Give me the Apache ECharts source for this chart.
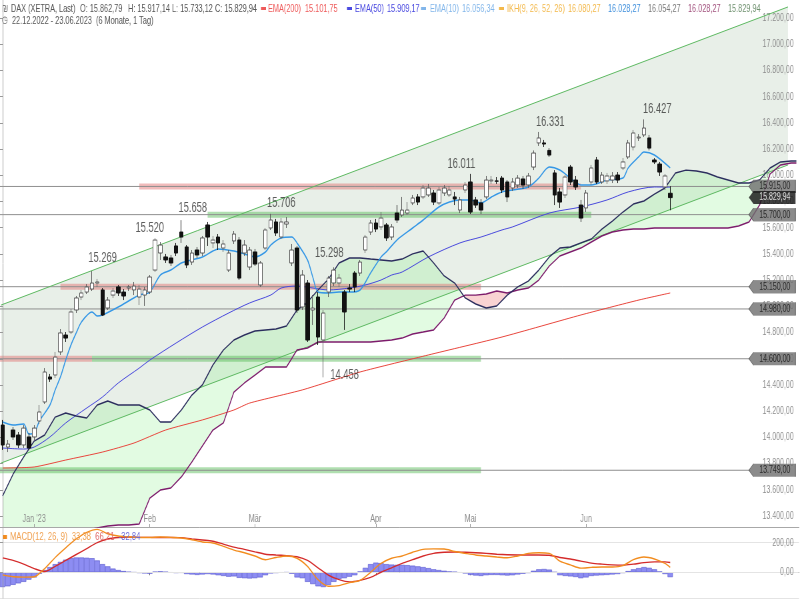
<!DOCTYPE html>
<html><head><meta charset="utf-8">
<script src="https://cdn.jsdelivr.net/npm/echarts@6/dist/echarts.min.js"></script>
<style>
html,body{margin:0;padding:0;background:#fff;width:800px;height:600px;overflow:hidden}
#wrap{width:800px;height:600px;overflow:hidden}
#c{width:1200px;height:600px;transform:scaleX(0.6666667);transform-origin:0 0}
</style>
</head><body><div id="wrap"><div id="c"></div></div>
<script>
// ---------- data ----------
const dates = ['22.12.2022','23.12.2022','27.12.2022','28.12.2022','29.12.2022','30.12.2022',
'02.01.2023','03.01.2023','04.01.2023','05.01.2023','06.01.2023','09.01.2023','10.01.2023','11.01.2023','12.01.2023','13.01.2023','16.01.2023','17.01.2023','18.01.2023','19.01.2023','20.01.2023','23.01.2023','24.01.2023','25.01.2023','26.01.2023','27.01.2023','30.01.2023','31.01.2023',
'01.02.2023','02.02.2023','03.02.2023','06.02.2023','07.02.2023','08.02.2023','09.02.2023','10.02.2023','13.02.2023','14.02.2023','15.02.2023','16.02.2023','17.02.2023','20.02.2023','21.02.2023','22.02.2023','23.02.2023','24.02.2023','27.02.2023','28.02.2023',
'01.03.2023','02.03.2023','03.03.2023','06.03.2023','07.03.2023','08.03.2023','09.03.2023','10.03.2023','13.03.2023','14.03.2023','15.03.2023','16.03.2023','17.03.2023','20.03.2023','21.03.2023','22.03.2023','23.03.2023','24.03.2023','27.03.2023','28.03.2023','29.03.2023','30.03.2023','31.03.2023',
'03.04.2023','04.04.2023','05.04.2023','06.04.2023','11.04.2023','12.04.2023','13.04.2023','14.04.2023','17.04.2023','18.04.2023','19.04.2023','20.04.2023','21.04.2023','24.04.2023','25.04.2023','26.04.2023','27.04.2023','28.04.2023',
'02.05.2023','03.05.2023','04.05.2023','05.05.2023','08.05.2023','09.05.2023','10.05.2023','11.05.2023','12.05.2023','15.05.2023','16.05.2023','17.05.2023','18.05.2023','19.05.2023','22.05.2023','23.05.2023','24.05.2023','25.05.2023','26.05.2023','29.05.2023','30.05.2023','31.05.2023',
'01.06.2023','02.06.2023','05.06.2023','06.06.2023','07.06.2023','08.06.2023','09.06.2023','12.06.2023','13.06.2023','14.06.2023','15.06.2023','16.06.2023','19.06.2023','20.06.2023','21.06.2023','22.06.2023','23.06.2023'];

const opens = [14094,13926,14056,14018,13942,14003,14003,14125,14270,14461,14476,14652,14781,14804,14972,15071,15109,15132,15178,15125,14987,15086,15148,15109,15140,15125,15071,15086,
15109,15277,15407,15377,15369,15461,15567,15453,15338,15430,15407,15621,15484,15529,15445,15277,15499,15506,15407,15300,
15415,15163,15445,15598,15644,15529,15628,15331,15445,14995,15178,14972,15071,14743,15109,15178,15178,15109,15140,15254,15254,15430,15567,
15636,15606,15621,15529,15712,15697,15712,15789,15835,15835,15850,15865,15789,15865,15850,15835,15735,15888,
15949,15812,15789,15835,15957,15957,15979,15949,15903,15926,15972,15926,16063,16247,16247,16190,16018,15873,15850,16063,15964,15773,
15751,15949,16117,15949,15957,15964,16002,16056,16140,16216,16285,16308,16285,16117,16086,15911,15862.79];
const closes = [13942,13949,14003,13942,14071,13919,14071,14194,14499,14445,14613,14797,14758,14957,15064,15102,15148,15178,15186,14934,15048,15117,15102,15079,15148,15155,15132,15125,
15224,15506,15468,15354,15331,15407,15529,15316,15407,15392,15522,15529,15506,15484,15476,15407,15552,15216,15468,15430,
15323,15331,15583,15659,15560,15644,15644,15430,14972,15239,14743,14987,14766,14949,15216,15277,15216,14957,15132,15148,15338,15529,15636,
15590,15674,15522,15606,15659,15735,15735,15827,15796,15903,15903,15796,15888,15903,15888,15819,15812,15926,
15720,15773,15735,15964,15964,15955,15888,15835,15949,15979,15926,15995,16170,16285,16239,16155,15850,15796,15987,15949,15911,15674,
15865,16056,15949,16002,15995,15995,15964,16102,16247,16323,16292,16361,16208,16102,16025,15995,15829.94];
const lows = [13904,13888,13980,13919,13919,13904,13980,14102,14255,14423,14453,14629,14728,14789,14949,15048,15094,15117,15148,14926,14972,15064,15079,15048,15117,15086,15010,15003,
15094,15262,15354,15331,15308,15384,15484,15292,15316,15369,15384,15461,15445,15430,15415,15262,15476,15201,15384,15277,
15308,15148,15430,15583,15537,15514,15598,15308,14949,14972,14728,14858,14705,14458,15071,15155,15148,14820,15109,15109,15232,15407,15545,
15567,15583,15499,15506,15636,15682,15697,15773,15773,15819,15835,15773,15773,15842,15835,15773,15712,15865,
15705,15751,15705,15819,15934,15934,15865,15796,15880,15903,15896,15903,16040,16224,16216,16140,15773,15751,15827,15926,15888,15644,
15720,15926,15934,15934,15934,15941,15941,16040,16125,16190,16262,16292,16190,16086,15995,15888,15733.12];
const highs = [14133,13980,14079,14041,14094,14033,14094,14247,14529,14484,14652,14827,14804,14980,15079,15125,15170,15269,15209,15140,15071,15140,15163,15132,15163,15186,15163,15148,
15239,15520,15491,15400,15392,15484,15658,15468,15430,15453,15537,15644,15537,15552,15506,15430,15575,15529,15506,15453,
15438,15346,15598,15706,15667,15674,15682,15476,15461,15277,15201,15086,15109,14972,15232,15298,15247,15125,15170,15269,15354,15545,15659,
15667,15720,15636,15628,15773,15835,15796,15850,15857,15926,15934,15888,15911,15926,15918,15873,15835,15949,
16011,15835,15819,15995,15995,15987,15995,15964,15979,16002,15995,16018,16190,16331,16270,16208,16040,15903,16002,16079,15995,15812,
15888,16079,16140,16025,16018,16025,16025,16132,16270,16346,16315,16427,16308,16132,16102,16010,15917.14];

const ema10 = [[0,14117],[2,14094],[4,14102],[5,14026],[6,14033],[7,14125],[9,14247],[10,14362],[11,14461],[12,14590],[13,14705],[14,14797],[15,14881],[17,14957],[18,14926],[19,14934],[22,14995],[26,15086],[28,15109],[30,15239],[32,15277],[34,15331],[36,15354],[38,15377],[40,15422],[41,15438],[44,15422],[46,15400],[48,15377],[50,15415],[51,15468],[53,15522],[55,15529],[56,15484],[58,15354],[59,15224],[60,15109],[62,15102],[64,15109],[66,15109],[68,15125],[70,15254],[72,15377],[73,15415],[75,15506],[78,15598],[80,15659],[83,15758],[85,15796],[87,15812],[89,15812],[91,15789],[93,15835],[95,15873],[97,15888],[100,15911],[102,15979],[104,16063],[106,16040],[108,15979],[110,15926],[112,15926],[115,15964],[118,15979],[119,16056],[121,16140],[122,16178],[124,16155],[127,16056]];
const ema50 = [[0,13919],[4,13911],[6,13926],[9,14003],[12,14110],[16,14224],[19,14308],[22,14415],[26,14529],[28,14590],[33,14720],[38,14842],[43,14949],[47,15026],[51,15086],[53,15140],[56,15155],[59,15140],[62,15125],[66,15140],[69,15163],[72,15201],[74,15239],[76,15262],[81,15377],[87,15484],[91,15529],[95,15583],[97,15606],[104,15712],[110,15758],[115,15812],[119,15873],[124,15911],[127,15909]];
const ema200 = [[0,13766],[6,13774],[12,13827],[19,13888],[25,13957],[31,14056],[38,14133],[44,14209],[47,14262],[57,14362],[68,14499],[81,14629],[95,14766],[110,14934],[121,15048],[127,15102]];

const ikhX = [0,2,4,6,8,10,12,14,16,18,20,22,24,26,28,30,32,34,36,38,40,42,44,46,48,50,52,54,56,58,60,62,64,66,68,70,72,74,76,78,80,82,84,86,88,90,92,94,96,98,100,102,104,106,108,110,112,114,116,118,120,122,124,126,128,130,132,134,136,138,140,142,144,146,148,150,151];
const spanA = [13553,13720,13850,13972,14018,14155,14186,14163,14148,14247,14278,14247,14247,14247,14209,14117,14117,14209,14323,14400,14552,14667,14743,14781,14812,14820,14827,14850,14972,15033,15125,15209,15331,15369,15369,15361,15354,15346,15361,15400,15422,15331,15232,15178,15064,15018,14987,15003,15086,15148,15193,15277,15377,15445,15453,15484,15514,15590,15651,15720,15781,15804,15857,15903,16018,16040,16033,16018,15987,15964,15941,15941,15964,16056,16102,16109,16109];
const spanB = [13217,13232,13247,13255,13263,13270,13278,13285,13293,13308,13324,13331,13331,13339,13537,13598,13614,13698,13812,13934,14056,14110,14346,14415,14476,14537,14537,14537,14667,14682,14728,14728,14728,14728,14728,14728,14736,14743,14758,14789,14804,14820,14911,15048,15086,15086,15094,15117,15102,15125,15140,15201,15308,15384,15415,15445,15491,15537,15567,15583,15590,15590,15598,15598,15598,15598,15598,15598,15598,15598,15613,15644,15773,16010,16079,16094,16094];

const channelX = [-0.3, 149.4];
const channelUpper = [15010, 17285];
const channelLower = [13804, 16079];

const levels = [15915, 15700, 15150, 14980, 14600, 13749];
const bandLevel = [15915, 15700, 15150, 14600, 14600, 13749];
const bandFrom  = [26, 39, 11, -0.5, 17, -0.5];
const bandTo    = [110, 112, 91, 17, 91, 91];
const bandKind  = ['r', 'g', 'r', 'r', 'g', 'g'];

const noteIdx = [17, 29, 34, 51, 63, 61, 89, 102, 122];
const noteVal = [15269, 15520, 15658, 15706, 15298, 14458, 16011, 16331, 16427];

const macdLine = [[0,-18],[2,-30],[4,-33],[6,-30],[8,25],[10,100],[12,165],[14,225],[16,270],[18,290],[20,260],[22,245],[24,240],[26,235],[28,235],[30,238],[32,236],[34,232],[36,220],[38,205],[40,198],[42,175],[44,150],[46,132],[48,110],[50,85],[52,100],[54,110],[56,95],[58,40],[60,-50],[62,-95],[64,-90],[66,-70],[68,-55],[70,0],[72,60],[74,95],[76,110],[78,135],[80,155],[82,158],[84,157],[86,140],[88,128],[90,117],[92,110],[94,103],[96,98],[98,110],[100,128],[102,132],[104,128],[106,75],[108,50],[110,28],[112,33],[114,36],[116,36],[118,45],[120,85],[122,103],[124,90],[126,60],[127,33.38]];
const macdSignal = [[0,97],[2,80],[4,55],[6,25],[8,5],[10,40],[12,80],[14,120],[16,160],[18,200],[20,225],[22,235],[24,238],[26,236],[28,236],[30,235],[32,236],[34,234],[36,225],[38,218],[40,210],[42,190],[44,170],[46,155],[48,138],[50,122],[52,117],[54,112],[56,105],[58,80],[60,30],[62,-20],[64,-50],[66,-65],[68,-55],[70,-35],[72,0],[74,30],[76,60],[78,85],[80,110],[82,128],[84,135],[86,137],[88,135],[90,132],[92,128],[94,122],[96,118],[98,117],[100,117],[102,117],[104,115],[106,100],[108,90],[110,75],[112,62],[114,55],[116,50],[118,48],[120,55],[122,65],[124,70],[126,70],[127,66.21]];
const macdHist = [-100,-95,-85,-75,-65,-50,-35,-10,15,35,55,70,85,95,100,100,98,95,80,55,40,25,15,8,2,-2,-5,-8,
-10,3,6,2,-3,-5,-4,-12,-15,-18,-15,-12,-15,-20,-25,-30,-28,-38,-40,-42,
-40,-35,-20,-8,-5,-3,-2,-10,-35,-40,-65,-80,-95,-100,-85,-65,-45,-40,-30,-20,5,30,55,
65,62,55,52,50,50,48,45,40,35,28,20,15,10,5,2,-3,-8,
-18,-22,-25,-20,-18,-18,-20,-22,-20,-15,-10,-5,10,20,22,18,0,-20,-25,-28,-32,-40,
-35,-25,-22,-20,-18,-15,-12,-5,8,20,28,35,30,20,5,-12,-32.84];

// ---------- helpers / layout ----------
// The chart is drawn 1200px wide and squeezed to 800px, like the reference screenshot.
const SX = 1.5;
const N = 152;
const cats = dates.concat(new Array(N - dates.length).fill(''));
const FONT = '"Liberation Sans", Arial, sans-serif';
function fmtDE(v, dec) {
  const s = Math.abs(v).toFixed(dec).split('.');
  const intp = s[0].replace(/\B(?=(\d{3})+(?!\d))/g, '.');
  return (v < 0 ? '-' : '') + intp + (s[1] ? ',' + s[1] : '');
}
function isMonthStart(i) {
  if (i <= 0 || i >= dates.length) return false;
  return dates[i].slice(3, 5) !== dates[i - 1].slice(3, 5);
}
const monthNames = {'01': "Jan '23", '02': 'Feb', '03': 'Mär', '04': 'Apr', '05': 'Mai', '06': 'Jun'};
const tickInt = (i) => isMonthStart(i);

const candleData = opens.map((o, i) => [o, closes[i], lows[i], highs[i]]);
const last = dates.length - 1;

function L(data, color, width, z, extra) {
  return Object.assign({type: 'line', xAxisIndex: 1, yAxisIndex: 0, data: data, symbol: 'none', silent: true,
    lineStyle: {color: color, width: width}, z: z}, extra || {});
}

const series = [];
series.push({type: 'custom', xAxisIndex: 1, yAxisIndex: 0, clip: true, silent: true, z: 1, data: [[0, 15000]],
  renderItem: function (params, api) {
    const pts = [api.coord([channelX[0], channelUpper[0]]), api.coord([channelX[1], channelUpper[1]]),
                 api.coord([channelX[1], channelLower[1]]), api.coord([channelX[0], channelLower[0]])];
    return {type: 'polygon', shape: {points: pts}, style: {fill: 'rgba(150,180,150,0.22)'}};
  }});
series.push({type: 'custom', xAxisIndex: 1, yAxisIndex: 0, clip: true, silent: true, z: 1, data: [[0, 15000]],
  renderItem: function (params, api) {
    const polys = [];
    let sign = (spanA[0] - spanB[0]) >= 0 ? 1 : -1;
    let As = [[ikhX[0], spanA[0]]], Bs = [[ikhX[0], spanB[0]]];
    for (let k = 0; k < ikhX.length - 1; k++) {
      const x0 = ikhX[k], x1 = ikhX[k + 1];
      const d0 = spanA[k] - spanB[k], d1 = spanA[k + 1] - spanB[k + 1];
      const s1 = d1 > 0 ? 1 : (d1 < 0 ? -1 : sign);
      if (s1 !== sign) {
        const t = d0 / (d0 - d1);
        const xc = x0 + t * (x1 - x0), yc = spanA[k] + t * (spanA[k + 1] - spanA[k]);
        As.push([xc, yc]); Bs.push([xc, yc]);
        polys.push({sign: sign, pts: As.concat(Bs.slice().reverse())});
        sign = s1; As = [[xc, yc]]; Bs = [[xc, yc]];
      }
      As.push([x1, spanA[k + 1]]); Bs.push([x1, spanB[k + 1]]);
    }
    polys.push({sign: sign, pts: As.concat(Bs.slice().reverse())});
    return {type: 'group', children: polys.map(p => ({type: 'polygon',
      shape: {points: p.pts.map(q => api.coord(q))},
      style: {fill: p.sign > 0 ? 'rgba(110,235,110,0.2)' : 'rgba(240,140,140,0.38)'}}))};
  }});
bandLevel.forEach((lv, k) => {
  series.push(L([[bandFrom[k], lv], [bandTo[k], lv]],
    bandKind[k] === 'r' ? 'rgba(228,120,120,0.5)' : 'rgba(80,185,80,0.45)', 6, 2));
});
levels.forEach(lv => series.push(L([[-0.5, lv], [142.2, lv]], '#8f8f8f', 1, 2)));
series.push(L(channelX.map((x, k) => [x, channelUpper[k]]), '#5cb860', 1, 3));
series.push(L(channelX.map((x, k) => [x, channelLower[k]]), '#5cb860', 1, 3));
series.push(L(ema200, '#e8453c', 1, 3, {smooth: 0.2}));
series.push(L(ema50, '#4848dc', 1, 3, {smooth: 0.3}));
series.push(L(ikhX.map((x, k) => [x, spanB[k]]), '#7d1c6c', 1.4, 3));
series.push(L(ikhX.map((x, k) => [x, spanA[k]]), '#2c2e5e', 1.4, 3));
series.push(L(ema10, '#3597e6', 1.5, 3, {smooth: 0.3}));
series.push({type: 'candlestick', xAxisIndex: 0, yAxisIndex: 0, data: candleData, barWidth: 6, z: 4, silent: true,
  itemStyle: {color: '#ffffff', color0: '#111111', borderColor: '#5a5a5a', borderColor0: '#111111', borderWidth: 1}});
const noteOffset = [[10.6, -13], [-5.3, -10], [11.4, -12], [10.6, -10.8], [-4.5, -14], [21.3, -2.4], [-9, -10], [11.5, -10], [13.3, -10.4]];
series.push({type: 'scatter', xAxisIndex: 1, yAxisIndex: 0, symbolSize: 0, z: 6, silent: true,
  data: noteIdx.map((x, k) => ({value: [x, noteVal[k]], label: {offset: [noteOffset[k][0] * SX, noteOffset[k][1]]}})),
  label: {show: true, position: 'inside', formatter: p => fmtDE(p.value[1], 0), color: '#333', fontSize: 14, fontFamily: FONT}});
const tagPath = 'path://M0,7L7,0L70,0L70,14L7,14Z';
series.push({type: 'scatter', xAxisIndex: 1, yAxisIndex: 0, clip: false, z: 10, silent: true,
  symbol: tagPath, symbolSize: [70, 13], symbolKeepAspect: false,
  itemStyle: {color: '#6e6e6e', borderColor: '#555', borderWidth: 0.5},
  data: levels.map(v => [146.4, v]),
  label: {show: true, position: 'inside', offset: [4, 0], formatter: p => fmtDE(p.value[1], 2), color: '#111', fontSize: 10.5, fontFamily: FONT}});
series.push({type: 'scatter', xAxisIndex: 1, yAxisIndex: 0, clip: false, z: 11, silent: true,
  symbol: tagPath, symbolSize: [70, 13], symbolKeepAspect: false,
  itemStyle: {color: '#111'},
  data: [[146.4, closes[last]]],
  label: {show: true, position: 'inside', offset: [4, 0], formatter: p => fmtDE(p.value[1], 2), color: '#fff', fontSize: 10.5, fontFamily: FONT}});
series.push({type: 'bar', xAxisIndex: 2, yAxisIndex: 1, data: macdHist, barCategoryGap: '0%', silent: true, z: 2,
  itemStyle: {color: '#8d8df2', borderColor: '#5656cf', borderWidth: 0.6}});
series.push({type: 'line', xAxisIndex: 3, yAxisIndex: 1, data: macdSignal, symbol: 'none', smooth: 0.3, silent: true, z: 3,
  lineStyle: {color: '#d42b2b', width: 1.4}});
series.push({type: 'line', xAxisIndex: 3, yAxisIndex: 1, data: macdLine, symbol: 'none', smooth: 0.3, silent: true, z: 3,
  lineStyle: {color: '#f28c1e', width: 1.4}});

// header texts (x given in screen pixels of the 800px picture)
const H1 = [
  ['₪', 2, '#777'], ['DAX (XETRA, Last)', 11, '#555'],
  ['O: ' + fmtDE(opens[last], 2), 80, '#555'], ['H: ' + fmtDE(highs[last], 2), 128, '#555'],
  ['L: ' + fmtDE(lows[last], 2), 172, '#555'], ['C: ' + fmtDE(closes[last], 2), 215, '#555'],
  ['EMA(200)', 268, '#ee5a5a'], ['15.101,75', 305, '#ee5a5a'],
  ['EMA(50)', 355, '#4a4ae0'], ['15.909,17', 387, '#4a4ae0'],
  ['EMA(10)', 430, '#82b6ea'], ['16.056,34', 462, '#82b6ea'],
  ['IKH(9, 26, 52, 26)', 507, '#f3b84a'], ['16.080,27', 568, '#f3b84a'],
  ['16.028,27', 608, '#3f8fdc'], ['16.054,27', 648, '#7a7a7a'], ['16.028,27', 688, '#a2527e'], ['15.829,94', 728, '#6f916f']
];
const dashes = [[261, '#ee5a5a'], [347, '#4a4ae0'], [421, '#82b6ea'], [499, '#f3b84a']];
const graphic = [];
H1.forEach(h => graphic.push({type: 'text', x: h[1] * SX, y: 3, z: 20, silent: true,
  style: {text: h[0], fill: h[2], font: '11px ' + FONT}}));
dashes.forEach(d => graphic.push({type: 'rect', x: d[0] * SX, y: 7, z: 20, silent: true,
  shape: {width: 5 * SX, height: 3}, style: {fill: d[1]}}));
graphic.push({type: 'text', x: 2 * SX, y: 15, z: 20, silent: true,
  style: {text: '◷', fill: '#666', font: '10px "DejaVu Sans", sans-serif'}});
graphic.push({type: 'text', x: 12 * SX, y: 15, z: 20, silent: true,
  style: {text: dates[0] + ' - ' + dates[last] + '  (6 Monate, 1 Tag)', fill: '#555', font: '11px ' + FONT}});
graphic.push({type: 'rect', x: 3 * SX, y: 535, z: 20, silent: true, shape: {width: 4 * SX, height: 4}, style: {fill: '#f28c1e'}});
graphic.push({type: 'text', x: 10 * SX, y: 531, z: 20, silent: true, style: {
  text: '{o|MACD(12, 26, 9)  33,38}  {r|66,21}  {b|-32,84}', font: '11.5px ' + FONT,
  rich: {o: {fill: '#f0a050', fontSize: 11.5, fontFamily: FONT}, r: {fill: '#e06a6a', fontSize: 11.5, fontFamily: FONT},
         b: {fill: '#6a6ad8', fontSize: 11.5, fontFamily: FONT}}}});

const axisLab = {color: '#8c8c8c', fontSize: 10.5, fontFamily: FONT};
const option = {
  animation: false,
  grid: [{left: -1.5, top: 0, width: 1200, height: 527}, {left: -1.5, top: 527, width: 1200, height: 71}],
  xAxis: [
    {type: 'category', gridIndex: 0, data: cats, boundaryGap: true, z: 3,
     axisLine: {show: true, lineStyle: {color: '#a8a8a8'}},
     axisTick: {show: true, inside: true, length: 3, alignWithLabel: true, interval: tickInt, lineStyle: {color: '#999'}},
     axisLabel: {inside: true, margin: 3, interval: tickInt, fontSize: 11, color: '#8c8c8c', fontFamily: FONT,
       formatter: (v) => monthNames[v.slice(3, 5)] || ''},
     splitLine: {show: false}},
    {type: 'value', gridIndex: 0, min: -0.5, max: N - 0.5, show: false},
    {type: 'category', gridIndex: 1, data: cats, boundaryGap: true,
     axisLine: {show: true, lineStyle: {color: '#444'}},
     axisTick: {show: true, length: 3, alignWithLabel: true, interval: tickInt, lineStyle: {color: '#666'}},
     axisLabel: {show: false}, splitLine: {show: false}},
    {type: 'value', gridIndex: 1, min: -0.5, max: N - 0.5, show: false}
  ],
  yAxis: [
    {type: 'value', gridIndex: 0, position: 'right', min: 13316, max: 17338, minInterval: 200, maxInterval: 200, z: 3,
     axisLine: {show: true, lineStyle: {color: '#999'}},
     axisTick: {show: true, inside: true, length: 4.5, lineStyle: {color: '#999'}},
     axisLabel: Object.assign({inside: true, margin: 8, showMinLabel: false, showMaxLabel: false, formatter: v => fmtDE(v, 2)}, axisLab),
     splitLine: {show: false}},
    {type: 'value', gridIndex: 1, position: 'right', min: -174, max: 306, minInterval: 200, maxInterval: 200, z: 3,
     axisLine: {show: true, lineStyle: {color: '#999'}},
     axisTick: {show: true, inside: true, length: 4.5, lineStyle: {color: '#999'}},
     axisLabel: Object.assign({inside: true, margin: 8, showMinLabel: false, showMaxLabel: false, formatter: v => fmtDE(v, 2)}, axisLab),
     splitLine: {show: true, lineStyle: {color: '#e4e4e4'}}}
  ],
  graphic: graphic,
  series: series
};
const chart = echarts.init(document.getElementById('c'), null, {renderer: 'canvas'});
chart.setOption(option);
</script></body></html>
